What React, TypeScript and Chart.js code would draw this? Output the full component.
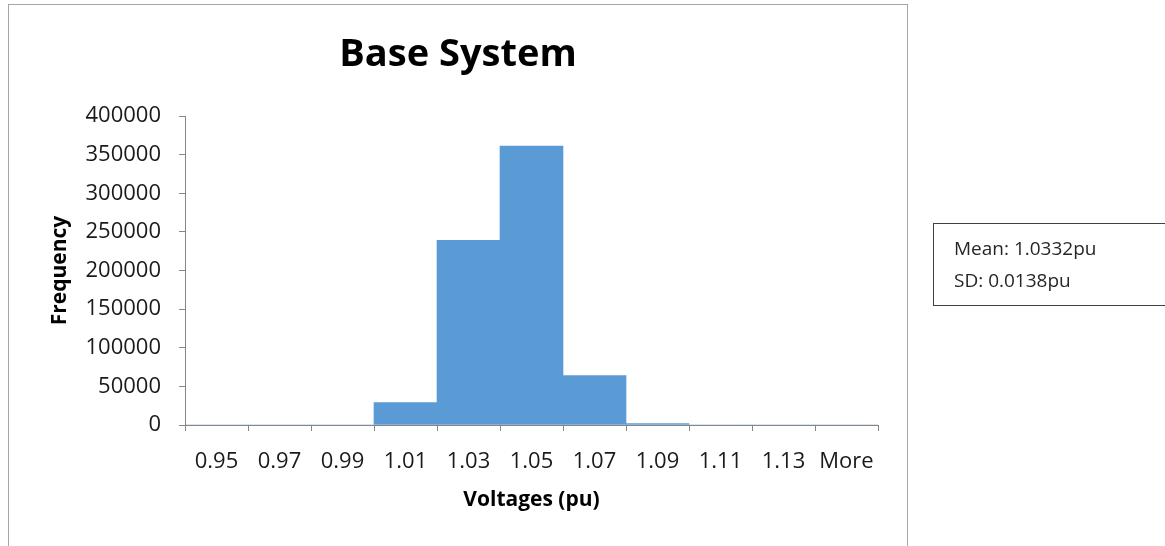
import React, { useEffect, useRef } from "react";
import { Chart, registerables } from "chart.js";

Chart.register(...registerables);

const categories = ["0.95", "0.97", "0.99", "1.01", "1.03", "1.05", "1.07", "1.09", "1.11", "1.13", "More"];
const frequency = [0, 0, 0, 29000, 239000, 361000, 64000, 2000, 0, 0, 0];
const yTicks = [0, 50000, 100000, 150000, 200000, 250000, 300000, 350000, 400000];
const chartTitle = "Base System";
const xTitle = "Voltages (pu)";
const yTitle = "Frequency";
const statLines = ["Mean: 1.0332pu", "SD: 0.0138pu"];

const FONT = "'Open Sans', 'Noto Sans', sans-serif";

const decorPlugin = {
  id: "decor",
  beforeDraw(chart: any) {
    const ctx = chart.ctx;
    ctx.save();
    ctx.fillStyle = "#ffffff";
    ctx.fillRect(0, 0, chart.width, chart.height);
    ctx.strokeStyle = "#a6a6a6";
    ctx.lineWidth = 1;
    ctx.strokeRect(8.5, 4.5, 899, 600);
    ctx.restore();
  },
  afterDraw(chart: any) {
    const ctx = chart.ctx;
    const area = chart.chartArea;
    ctx.save();
    ctx.fillStyle = "#000000";
    ctx.textAlign = "center";
    ctx.textBaseline = "middle";
    ctx.font = `bold 38px ${FONT}`;
    ctx.fillText(chartTitle, 458, 55);
    ctx.font = `bold 21px ${FONT}`;
    ctx.fillText(xTitle, (area.left + area.right) / 2, 500);
    ctx.translate(60, (area.top + area.bottom) / 2);
    ctx.rotate(-Math.PI / 2);
    ctx.fillText(yTitle, 0, 0);
    ctx.restore();
  },
};

export default function App() {
  const ref = useRef<HTMLCanvasElement | null>(null);
  useEffect(() => {
    if (!ref.current) return;
    const chart = new Chart(ref.current, {
      type: "bar",
      data: {
        labels: categories,
        datasets: [
          {
            label: "Frequency",
            data: frequency,
            backgroundColor: "#5b9bd5",
            borderWidth: 0,
            barPercentage: 1,
            categoryPercentage: 1,
          },
        ],
      },
      options: {
        animation: false,
        responsive: false,
        layout: { padding: { left: 0, right: 287, top: 116, bottom: 0 } },
        plugins: { legend: { display: false }, title: { display: false }, tooltip: { enabled: false } },
        scales: {
          x: {
            grid: { drawOnChartArea: false, drawTicks: true, tickLength: 6, color: "#868686" },
            border: { color: "#868686" },
            ticks: { color: "#1a1a1a", font: { family: FONT, size: 22 }, padding: 18, maxRotation: 0 },
            afterFit(scale: any) {
              scale.height = 121;
            },
          },
          y: {
            min: 0,
            max: 400000,
            afterBuildTicks(scale: any) {
              scale.ticks = yTicks.map((v) => ({ value: v }));
            },
            grid: { drawOnChartArea: false, drawTicks: true, tickLength: 6, color: "#868686" },
            border: { color: "#868686" },
            ticks: {
              color: "#1a1a1a",
              font: { family: FONT, size: 22 },
              padding: 18,
              callback: (v: any) => String(v),
            },
            afterFit(scale: any) {
              scale.width = 185;
            },
          },
        },
      },
      plugins: [decorPlugin],
    });
    return () => chart.destroy();
  }, []);

  return (
    <div style={{ position: "fixed", left: 0, top: 0, width: 1165, height: 546, background: "#fff" }}>
      <canvas ref={ref} width={1165} height={546} style={{ display: "block" }} />
      <div
        style={{
          position: "absolute",
          left: 933,
          top: 223,
          width: 240,
          height: 83,
          border: "1px solid #404040",
          boxSizing: "border-box",
          fontFamily: FONT,
          fontSize: 19,
          color: "#262626",
          paddingLeft: 20,
          paddingTop: 8,
        }}
      >
        {statLines.map((s) => (
          <div key={s} style={{ lineHeight: "32px", whiteSpace: "nowrap" }}>
            {s}
          </div>
        ))}
      </div>
    </div>
  );
}
